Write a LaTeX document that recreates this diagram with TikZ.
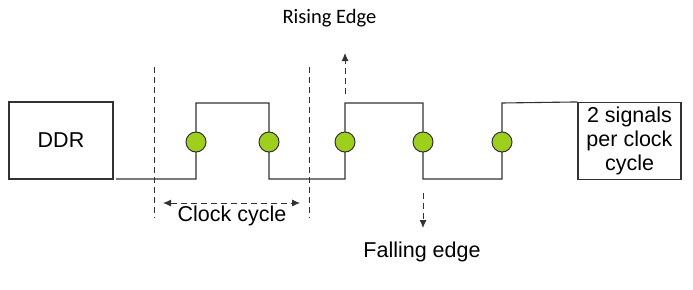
\documentclass[tikz,border=0pt]{standalone}
\usepackage{fontspec}
\setmainfont{Liberation Sans}
\newfontfamily\calib{Carlito}
\usetikzlibrary{arrows.meta}
\definecolor{linegray}{RGB}{50,50,50}
\definecolor{dotgreen}{RGB}{158,207,28}
\begin{document}
\begin{tikzpicture}[x=1pt,y=-1pt,
  box/.style={draw=linegray,line width=1.1pt,minimum width=104pt,minimum height=77pt,inner sep=1pt,align=center,font=\fontsize{21.5}{24}\selectfont},
  sig/.style={draw=linegray,line width=1.1pt},
  dot/.style={circle,draw=linegray,line width=1pt,fill=dotgreen,minimum size=20pt,inner sep=0pt},
  guide/.style={draw=linegray,line width=0.9pt,dash pattern=on 6pt off 4pt},
  tip/.style={Latex[length=8pt,width=7pt]},
  darrow/.style={guide,-{Latex[length=8pt,width=7pt]}},
  lbl/.style={font=\fontsize{21.5}{24}\selectfont,text=black,inner sep=0pt}]
\useasboundingbox (0,0) rectangle (693,289);
\node[box] (ddr) at (61,140.5) {DDR};
\node[box,minimum width=103pt,minimum height=77pt] (two) at (629.5,141) {2 signals\\per clock\\cycle};
% signal corners
\coordinate (s0) at (116,179);
\coordinate (r1l) at (196,179); \coordinate (r1h) at (196,103);
\coordinate (f1h) at (269,103); \coordinate (f1l) at (269,179);
\coordinate (r2l) at (345,179); \coordinate (r2h) at (345,103);
\coordinate (f2h) at (423,103); \coordinate (f2l) at (423,179);
\coordinate (r3l) at (502,179); \coordinate (r3h) at (502,103);
\draw[sig] (s0) -- (r1l) -- (r1h) -- (f1h) -- (f1l) -- (r2l) -- (r2h) -- (f2h) -- (f2l) -- (r3l) -- (r3h) -- (two.north west);
\node[dot] (d1) at (196,142) {};
\node[dot] (d2) at (269,142) {};
\node[dot] (d3) at (345,142) {};
\node[dot] (d4) at (423,142) {};
\node[dot] (d5) at (502,142) {};
% clock cycle guides
\coordinate (g1t) at (154,67); \coordinate (g1b) at (154,218);
\coordinate (g2t) at (309,67); \coordinate (g2b) at (309,218);
\draw[guide] (g1t) -- (g1b);
\draw[guide] (g2t) -- (g2b);
\coordinate (ca) at (163,203); \coordinate (cb) at (300,203);
\draw[guide,{Latex[length=8pt,width=7pt]}-{Latex[length=8pt,width=7pt]}] (ca) -- (cb);
\node[lbl] (cc) at (232,216) {Clock cycle};
% rising edge
\coordinate (rb) at (345,94);
\coordinate (rt) at (345,53);
\draw[darrow] (rb) -- (rt);
\node[lbl,font=\calib\fontsize{20.5}{24}\selectfont] (re) at (329.5,18.5) {Rising Edge};
% falling edge
\coordinate (ft) at (423,193);
\coordinate (fb) at (423,228);
\draw[darrow] (ft) -- (fb);
\node[lbl] (fe) at (422,252) {Falling edge};
\end{tikzpicture}
\end{document}
